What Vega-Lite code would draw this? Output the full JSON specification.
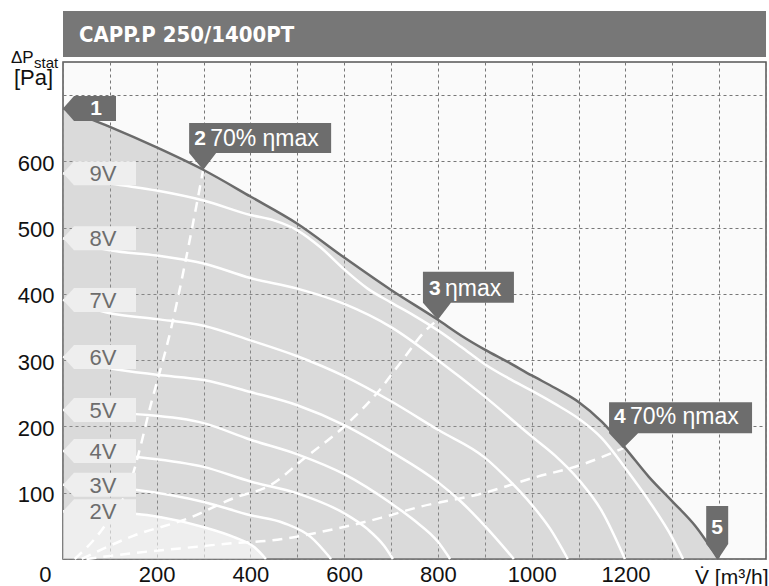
{
  "$schema": "https://vega.github.io/schema/vega-lite/v6.json",
  "padding": {"left": 10, "top": 11, "right": 2, "bottom": 2},
  "background": "white",
  "spacing": 5,
  "bounds": "flush",
  "config": {
    "font": "Liberation Sans",
    "view": {"fill": "#fafafa", "stroke": "#555555", "strokeWidth": 1.5}
  },
  "datasets": {
    "header": [{"label": "CAPP.P 250/1400PT"}],
    "maxcurve": [
      {"x": 0, "y": 680}, {"x": 100, "y": 652}, {"x": 200, "y": 621}, {"x": 300, "y": 587},
      {"x": 400, "y": 547}, {"x": 500, "y": 506}, {"x": 600, "y": 455}, {"x": 700, "y": 406},
      {"x": 800, "y": 361}, {"x": 850, "y": 337}, {"x": 900, "y": 316}, {"x": 950, "y": 297},
      {"x": 1000, "y": 277}, {"x": 1050, "y": 258}, {"x": 1100, "y": 237}, {"x": 1150, "y": 207},
      {"x": 1200, "y": 167}, {"x": 1250, "y": 124}, {"x": 1300, "y": 87}, {"x": 1350, "y": 49},
      {"x": 1398, "y": 0}
    ],
    "speed": [
      {"v": "9V", "x": 0, "y": 582}, {"v": "9V", "x": 100, "y": 567}, {"v": "9V", "x": 200, "y": 556},
      {"v": "9V", "x": 300, "y": 541}, {"v": "9V", "x": 400, "y": 519}, {"v": "9V", "x": 450, "y": 511},
      {"v": "9V", "x": 500, "y": 496}, {"v": "9V", "x": 550, "y": 470}, {"v": "9V", "x": 600, "y": 437},
      {"v": "9V", "x": 650, "y": 408}, {"v": "9V", "x": 700, "y": 387}, {"v": "9V", "x": 750, "y": 367},
      {"v": "9V", "x": 800, "y": 345}, {"v": "9V", "x": 850, "y": 320}, {"v": "9V", "x": 900, "y": 294},
      {"v": "9V", "x": 950, "y": 273}, {"v": "9V", "x": 1000, "y": 254}, {"v": "9V", "x": 1050, "y": 234},
      {"v": "9V", "x": 1100, "y": 212}, {"v": "9V", "x": 1150, "y": 182}, {"v": "9V", "x": 1200, "y": 137},
      {"v": "9V", "x": 1250, "y": 88}, {"v": "9V", "x": 1300, "y": 32}, {"v": "9V", "x": 1323, "y": 0},
      {"v": "8V", "x": 0, "y": 484}, {"v": "8V", "x": 100, "y": 466}, {"v": "8V", "x": 200, "y": 458},
      {"v": "8V", "x": 300, "y": 446}, {"v": "8V", "x": 400, "y": 424}, {"v": "8V", "x": 500, "y": 408},
      {"v": "8V", "x": 600, "y": 385}, {"v": "8V", "x": 700, "y": 350}, {"v": "8V", "x": 800, "y": 300},
      {"v": "8V", "x": 900, "y": 245}, {"v": "8V", "x": 1000, "y": 185}, {"v": "8V", "x": 1050, "y": 156},
      {"v": "8V", "x": 1100, "y": 120}, {"v": "8V", "x": 1150, "y": 72}, {"v": "8V", "x": 1199, "y": 0},
      {"v": "7V", "x": 0, "y": 391}, {"v": "7V", "x": 100, "y": 371}, {"v": "7V", "x": 200, "y": 362},
      {"v": "7V", "x": 300, "y": 352}, {"v": "7V", "x": 400, "y": 330}, {"v": "7V", "x": 500, "y": 306},
      {"v": "7V", "x": 600, "y": 276}, {"v": "7V", "x": 700, "y": 238}, {"v": "7V", "x": 800, "y": 195},
      {"v": "7V", "x": 900, "y": 153}, {"v": "7V", "x": 950, "y": 120}, {"v": "7V", "x": 1000, "y": 82},
      {"v": "7V", "x": 1040, "y": 45}, {"v": "7V", "x": 1077, "y": 0},
      {"v": "6V", "x": 0, "y": 305}, {"v": "6V", "x": 100, "y": 288}, {"v": "6V", "x": 200, "y": 278},
      {"v": "6V", "x": 300, "y": 270}, {"v": "6V", "x": 400, "y": 252}, {"v": "6V", "x": 500, "y": 232},
      {"v": "6V", "x": 600, "y": 202}, {"v": "6V", "x": 700, "y": 162}, {"v": "6V", "x": 800, "y": 116},
      {"v": "6V", "x": 850, "y": 86}, {"v": "6V", "x": 900, "y": 50}, {"v": "6V", "x": 962, "y": 0},
      {"v": "5V", "x": 0, "y": 225}, {"v": "5V", "x": 150, "y": 219}, {"v": "5V", "x": 300, "y": 205},
      {"v": "5V", "x": 400, "y": 180}, {"v": "5V", "x": 500, "y": 158}, {"v": "5V", "x": 600, "y": 128},
      {"v": "5V", "x": 700, "y": 84}, {"v": "5V", "x": 750, "y": 58}, {"v": "5V", "x": 800, "y": 26},
      {"v": "5V", "x": 826, "y": 0},
      {"v": "4V", "x": 0, "y": 163}, {"v": "4V", "x": 158, "y": 154}, {"v": "4V", "x": 300, "y": 139},
      {"v": "4V", "x": 400, "y": 117}, {"v": "4V", "x": 500, "y": 99}, {"v": "4V", "x": 600, "y": 69},
      {"v": "4V", "x": 650, "y": 45}, {"v": "4V", "x": 685, "y": 20}, {"v": "4V", "x": 704, "y": 0},
      {"v": "3V", "x": 0, "y": 112}, {"v": "3V", "x": 158, "y": 104}, {"v": "3V", "x": 300, "y": 86},
      {"v": "3V", "x": 400, "y": 66}, {"v": "3V", "x": 472, "y": 54}, {"v": "3V", "x": 529, "y": 33},
      {"v": "3V", "x": 572, "y": 0},
      {"v": "2V", "x": 0, "y": 72}, {"v": "2V", "x": 158, "y": 68}, {"v": "2V", "x": 209, "y": 63},
      {"v": "2V", "x": 301, "y": 48}, {"v": "2V", "x": 365, "y": 33}, {"v": "2V", "x": 408, "y": 18},
      {"v": "2V", "x": 433, "y": 0}
    ],
    "eff": [
      {"id": "2", "x": 25, "y": 0}, {"id": "2", "x": 87, "y": 48}, {"id": "2", "x": 145, "y": 119},
      {"id": "2", "x": 190, "y": 240}, {"id": "2", "x": 230, "y": 346}, {"id": "2", "x": 259, "y": 441},
      {"id": "2", "x": 280, "y": 516}, {"id": "2", "x": 299, "y": 587},
      {"id": "3", "x": 40, "y": 0}, {"id": "3", "x": 150, "y": 35}, {"id": "3", "x": 270, "y": 62},
      {"id": "3", "x": 365, "y": 92}, {"id": "3", "x": 444, "y": 112}, {"id": "3", "x": 515, "y": 152},
      {"id": "3", "x": 600, "y": 200}, {"id": "3", "x": 672, "y": 252}, {"id": "3", "x": 721, "y": 297},
      {"id": "3", "x": 774, "y": 345}, {"id": "3", "x": 800, "y": 361},
      {"id": "4", "x": 50, "y": 0}, {"id": "4", "x": 151, "y": 9}, {"id": "4", "x": 250, "y": 16},
      {"id": "4", "x": 365, "y": 24}, {"id": "4", "x": 444, "y": 28}, {"id": "4", "x": 578, "y": 45},
      {"id": "4", "x": 678, "y": 62}, {"id": "4", "x": 757, "y": 78}, {"id": "4", "x": 900, "y": 100},
      {"id": "4", "x": 1006, "y": 123}, {"id": "4", "x": 1105, "y": 142}, {"id": "4", "x": 1195, "y": 167}
    ],
    "markers": [
      {"id": "1", "rest": "", "x": 0, "y": 680},
      {"id": "2", "rest": "70% ηmax", "x": 299, "y": 587},
      {"id": "3", "rest": "ηmax", "x": 800, "y": 361},
      {"id": "4", "rest": "70% ηmax", "x": 1195, "y": 167},
      {"id": "5", "rest": "", "x": 1398, "y": 0}
    ]
  },
  "vconcat": [
    {
      "width": 703,
      "height": 46,
      "view": {"stroke": null, "fill": null},
      "data": {"name": "header"},
      "layer": [
        {
          "mark": {"type": "rect", "color": "#777777"},
          "encoding": {
            "x": {"datum": 0, "type": "quantitative", "scale": {"domain": [0, 1500], "nice": false}, "axis": null},
            "x2": {"datum": 1500}
          }
        },
        {
          "mark": {"type": "text", "align": "left", "baseline": "middle", "dx": 16, "dy": 1, "font": "DejaVu Sans Condensed, DejaVu Sans, sans-serif", "fontWeight": "bold", "fontSize": 22, "color": "white"},
          "encoding": {
            "x": {"datum": 0, "type": "quantitative"},
            "text": {"field": "label"}
          }
        }
      ]
    },
    {
      "width": 703,
      "height": 497,
      "layer": [
        {
          "data": {"name": "maxcurve"},
          "mark": {"type": "area", "color": "#a0a0a0", "opacity": 0.36, "interpolate": "monotone"},
          "encoding": {
            "x": {
              "field": "x", "type": "quantitative",
              "scale": {"domain": [0, 1500], "nice": false},
              "axis": {
                "values": [0, 100, 200, 300, 400, 500, 600, 700, 800, 900, 1000, 1100, 1200, 1300, 1400, 1500],
                "format": "d",
                "labelExpr": "datum.value <= 1200 && datum.value % 200 === 0 ? datum.label : ''",
                "labelFontSize": 22, "labelColor": "#111111", "labelPadding": 5,
                "labelAlign": {"condition": {"test": "datum.value === 0", "value": "right"}, "value": "center"},
                "labelOffset": {"condition": {"test": "datum.value === 0", "value": -12}, "value": 0},
                "labelFlush": false, "labelOverlap": false, "labelBound": false,
                "ticks": false, "domain": false,
                "grid": true, "gridDash": [3, 3], "gridColor": "#777777", "gridWidth": 1,
                "title": "V̇ [m³/h]", "titleFontSize": 21, "titleFontWeight": "normal", "titleColor": "#111111",
                "titleX": 705, "titleY": 18, "titleAlign": "right", "titleBaseline": "middle"
              }
            },
            "y": {
              "field": "y", "type": "quantitative",
              "scale": {"domain": [0, 750], "nice": false},
              "axis": {
                "values": [0, 50, 100, 150, 200, 250, 300, 350, 400, 450, 500, 550, 600, 650, 700, 750],
                "format": "d",
                "labelExpr": "datum.value > 0 && datum.value < 700 && datum.value % 100 === 0 ? datum.label : ''",
                "labelFontSize": 22, "labelColor": "#111111", "labelPadding": 9,
                "labelOffset": 2,
                "labelFlush": false, "labelOverlap": false, "labelBound": false,
                "ticks": false, "domain": false,
                "grid": true, "gridDash": [3, 3], "gridColor": "#777777", "gridWidth": 1,
                "title": null
              }
            }
          }
        },
        {
          "data": {"name": "speed"},
          "transform": [{"filter": "datum.v === '2V'"}],
          "mark": {"type": "area", "color": "white", "opacity": 0.55, "interpolate": "monotone"},
          "encoding": {
            "x": {"field": "x", "type": "quantitative"},
            "y": {"field": "y", "type": "quantitative"}
          }
        },
        {
          "data": {"name": "speed"},
          "mark": {"type": "line", "color": "white", "strokeWidth": 2.5, "interpolate": "monotone"},
          "encoding": {
            "x": {"field": "x", "type": "quantitative"},
            "y": {"field": "y", "type": "quantitative"},
            "detail": {"field": "v"}
          }
        },
        {
          "data": {"name": "eff"},
          "mark": {"type": "line", "color": "white", "strokeWidth": 2.5, "strokeDash": [10, 7], "interpolate": "monotone"},
          "encoding": {
            "x": {"field": "x", "type": "quantitative"},
            "y": {"field": "y", "type": "quantitative"},
            "detail": {"field": "id"}
          }
        },
        {
          "data": {"name": "maxcurve"},
          "mark": {"type": "line", "color": "#6b6b6b", "strokeWidth": 2.5, "interpolate": "monotone"},
          "encoding": {
            "x": {"field": "x", "type": "quantitative"},
            "y": {"field": "y", "type": "quantitative"}
          }
        },
        {
          "data": {"name": "speed"},
          "transform": [{"filter": "datum.x === 0"}],
          "mark": {"type": "point", "filled": true, "size": 4, "opacity": 1, "color": "#eeeeee", "strokeWidth": 0, "shape": "M0,0L11,-12L73,-12L73,12L11,12Z"},
          "encoding": {
            "x": {"field": "x", "type": "quantitative"},
            "y": {"field": "y", "type": "quantitative"}
          }
        },
        {
          "data": {"name": "speed"},
          "transform": [{"filter": "datum.x === 0"}],
          "mark": {"type": "text", "align": "center", "baseline": "middle", "dx": 40, "dy": 1, "fontSize": 22, "color": "#6d6d6d"},
          "encoding": {
            "x": {"field": "x", "type": "quantitative"},
            "y": {"field": "y", "type": "quantitative"},
            "text": {"field": "v"}
          }
        },
        {
          "data": {"name": "markers"},
          "mark": {"type": "point", "filled": true, "size": 4, "opacity": 1, "color": "#6d6d6d", "strokeWidth": 0},
          "encoding": {
            "x": {"field": "x", "type": "quantitative"},
            "y": {"field": "y", "type": "quantitative"},
            "shape": {
              "field": "id", "type": "nominal", "legend": null,
              "scale": {
                "domain": ["1", "2", "3", "4", "5"],
                "range": [
                  "M0,0L11,-12.5L53,-12.5L53,12.5L11,12.5Z",
                  "M0,0L-14,-17L-14,-47L128,-47L128,-17L13,-17Z",
                  "M0,0L-15,-17L-15,-48L76,-48L76,-17L13,-17Z",
                  "M0,0L-14,-15L-14,-46L129,-46L129,-15L15,-15Z",
                  "M0,0L-12,-15L-12,-53L10,-53L10,-15Z"
                ]
              }
            }
          }
        },
        {
          "data": {"name": "markers"},
          "transform": [{"filter": "datum.id === '2' || datum.id === '3' || datum.id === '4'"}],
          "mark": {"type": "text", "align": "left", "baseline": "middle", "dx": -9, "dy": -31, "fontSize": 21, "fontWeight": "bold", "color": "white"},
          "encoding": {
            "x": {"field": "x", "type": "quantitative"},
            "y": {"field": "y", "type": "quantitative"},
            "text": {"field": "id"}
          }
        },
        {
          "data": {"name": "markers"},
          "transform": [{"filter": "datum.id === '2' || datum.id === '3' || datum.id === '4'"}],
          "mark": {"type": "text", "align": "left", "baseline": "middle", "dx": 7, "dy": -31, "fontSize": 23, "color": "white"},
          "encoding": {
            "x": {"field": "x", "type": "quantitative"},
            "y": {"field": "y", "type": "quantitative"},
            "text": {"field": "rest"}
          }
        },
        {
          "data": {"name": "markers"},
          "transform": [{"filter": "datum.id === '1'"}],
          "mark": {"type": "text", "align": "center", "baseline": "middle", "dx": 33, "dy": 1, "fontSize": 21, "fontWeight": "bold", "color": "white"},
          "encoding": {
            "x": {"field": "x", "type": "quantitative"},
            "y": {"field": "y", "type": "quantitative"},
            "text": {"field": "id"}
          }
        },
        {
          "data": {"name": "markers"},
          "transform": [{"filter": "datum.id === '5'"}],
          "mark": {"type": "text", "align": "center", "baseline": "middle", "dx": -1, "dy": -31, "fontSize": 21, "fontWeight": "bold", "color": "white"},
          "encoding": {
            "x": {"field": "x", "type": "quantitative"},
            "y": {"field": "y", "type": "quantitative"},
            "text": {"field": "id"}
          }
        },
        {
          "data": {"values": [{"t": "ΔP"}]},
          "mark": {"type": "text", "align": "left", "baseline": "middle", "dx": -52, "dy": -4, "fontSize": 17, "color": "#111111"},
          "encoding": {
            "x": {"datum": 0, "type": "quantitative"},
            "y": {"datum": 750, "type": "quantitative"},
            "text": {"field": "t"}
          }
        },
        {
          "data": {"values": [{"t": "stat"}]},
          "mark": {"type": "text", "align": "left", "baseline": "middle", "dx": -29, "dy": 1, "fontSize": 15, "color": "#111111"},
          "encoding": {
            "x": {"datum": 0, "type": "quantitative"},
            "y": {"datum": 750, "type": "quantitative"},
            "text": {"field": "t"}
          }
        },
        {
          "data": {"values": [{"t": "[Pa]"}]},
          "mark": {"type": "text", "align": "left", "baseline": "middle", "dx": -49, "dy": 16, "fontSize": 22, "color": "#111111"},
          "encoding": {
            "x": {"datum": 0, "type": "quantitative"},
            "y": {"datum": 750, "type": "quantitative"},
            "text": {"field": "t"}
          }
        }
      ]
    }
  ]
}
